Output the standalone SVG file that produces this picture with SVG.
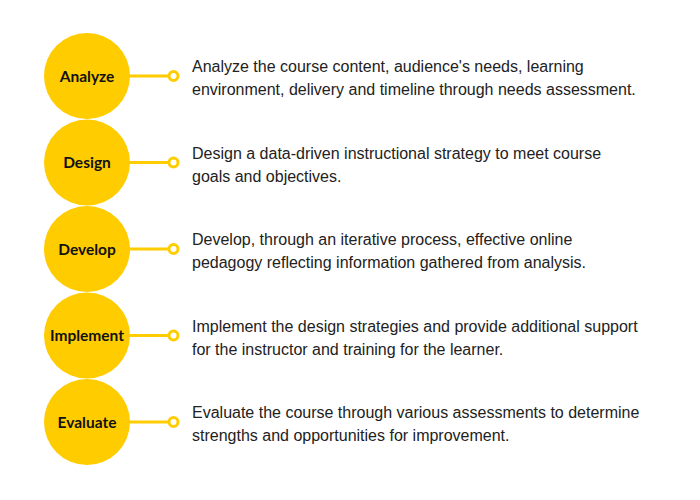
<svg xmlns="http://www.w3.org/2000/svg" width="700" height="500" viewBox="0 0 700 500">
<style>
.c{fill:#FFCC00}
.lab{font-family:Lato,"Open Sans",sans-serif;font-weight:bold;font-size:15.5px;fill:#111;text-anchor:middle}
.ln{stroke:#FFCC00;stroke-width:3;fill:none}
.ring{stroke:#FFCC00;stroke-width:3;fill:#fff}
.t{font-family:"Liberation Sans",Arial,sans-serif;font-size:16px;fill:#222}
</style>
<rect width="700" height="500" fill="#fff"/>
<g id="connectors">
<line class="ln" x1="128" y1="76" x2="169" y2="76"/>
<line class="ln" x1="128" y1="162.5" x2="169" y2="162.5"/>
<line class="ln" x1="128" y1="249" x2="169" y2="249"/>
<line class="ln" x1="128" y1="335.5" x2="169" y2="335.5"/>
<line class="ln" x1="128" y1="422" x2="169" y2="422"/>
<circle class="ring" cx="173.5" cy="76" r="4.5"/>
<circle class="ring" cx="173.5" cy="162.5" r="4.5"/>
<circle class="ring" cx="173.5" cy="249" r="4.5"/>
<circle class="ring" cx="173.5" cy="335.5" r="4.5"/>
<circle class="ring" cx="173.5" cy="422" r="4.5"/>
</g>
<g id="analyze">
<circle class="c" cx="87" cy="76" r="43"/>
<text class="lab" x="87" y="81.5">Analyze</text>
<text class="t" x="192" y="72">Analyze the course content, audience's needs, learning</text>
<text class="t" x="192" y="95">environment, delivery and timeline through needs assessment.</text>
</g>
<g id="design">
<circle class="c" cx="87" cy="162.5" r="43"/>
<text class="lab" x="87" y="168">Design</text>
<text class="t" x="192" y="158.5">Design a data-driven instructional strategy to meet course</text>
<text class="t" x="192" y="181.5">goals and objectives.</text>
</g>
<g id="develop">
<circle class="c" cx="87" cy="249" r="43"/>
<text class="lab" x="87" y="254.5">Develop</text>
<text class="t" x="192" y="245">Develop, through an iterative process, effective online</text>
<text class="t" x="192" y="268">pedagogy reflecting information gathered from analysis.</text>
</g>
<g id="implement">
<circle class="c" cx="87" cy="335.5" r="43"/>
<text class="lab" x="87" y="341">Implement</text>
<text class="t" x="192" y="331.5">Implement the design strategies and provide additional support</text>
<text class="t" x="192" y="354.5">for the instructor and training for the learner.</text>
</g>
<g id="evaluate">
<circle class="c" cx="87" cy="422" r="43"/>
<text class="lab" x="87" y="427.5">Evaluate</text>
<text class="t" x="192" y="418">Evaluate the course through various assessments to determine</text>
<text class="t" x="192" y="441">strengths and opportunities for improvement.</text>
</g>
</svg>
